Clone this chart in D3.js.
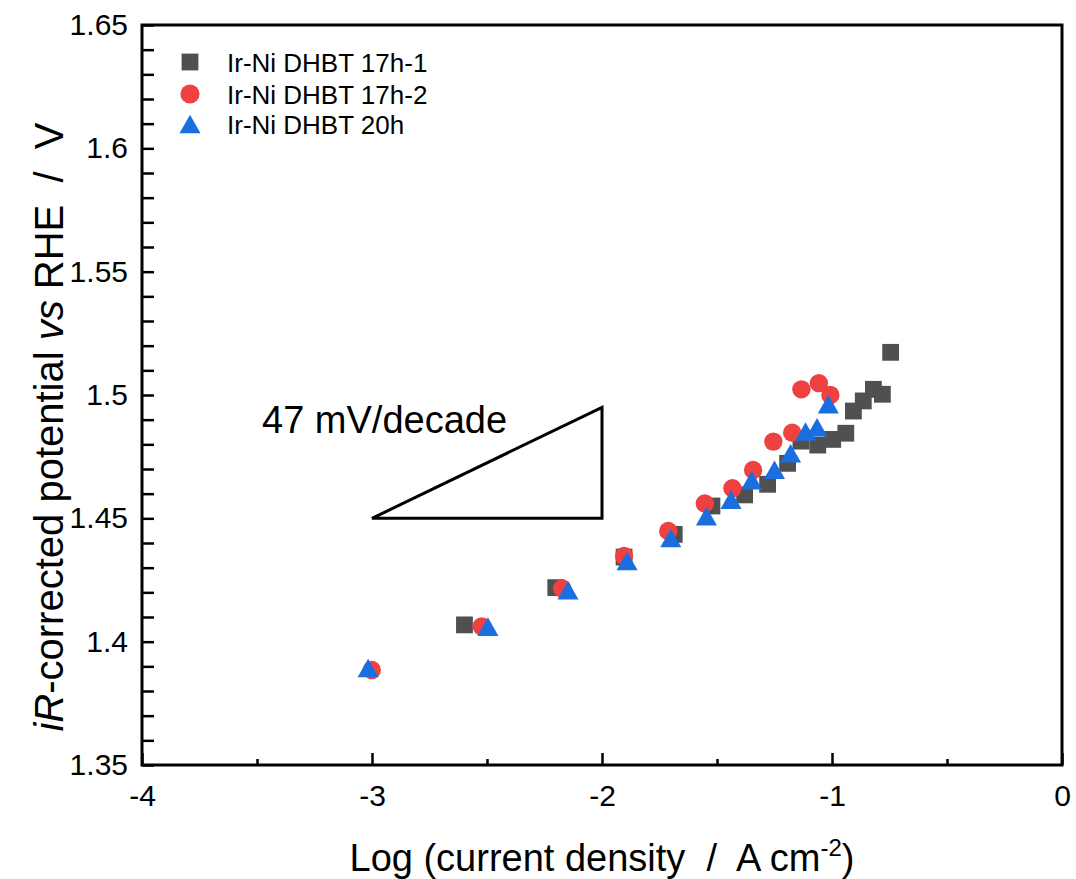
<!DOCTYPE html>
<html>
<head>
<meta charset="utf-8">
<script src="https://cdn.jsdelivr.net/npm/d3@7"></script>
<style>
  body { margin: 0; background: #fff; }
  svg text { font-family: "Liberation Sans", Arial, sans-serif; fill: #000; }
</style>
</head>
<body>
<div class="chart"></div>
<script>
// Tafel data
var names = ["Ir-Ni DHBT 17h-1", "Ir-Ni DHBT 17h-2", "Ir-Ni DHBT 20h"];
var colours = ["#505050", "#f04141", "#1a6ee0"];

var sqX = [-2.598, -2.201, -1.904, -1.686, -1.522, -1.380, -1.280, -1.193, -1.135, -1.062, -0.997, -0.940, -0.907, -0.864, -0.820, -0.781, -0.745];
var sqY = [1.4068, 1.4219, 1.4343, 1.4435, 1.4550, 1.4595, 1.4638, 1.4723, 1.4813, 1.4797, 1.4820, 1.4845, 1.4935, 1.4976, 1.5023, 1.5003, 1.5173];

var ciX = [-3.001, -2.523, -2.173, -1.904, -1.712, -1.553, -1.433, -1.343, -1.255, -1.173, -1.133, -1.057, -1.007];
var ciY = [1.3885, 1.4062, 1.4216, 1.4347, 1.4449, 1.4560, 1.4622, 1.4696, 1.4811, 1.4847, 1.5023, 1.5048, 1.5000];

var trX = [-3.017, -2.496, -2.148, -1.891, -1.701, -1.546, -1.439, -1.349, -1.250, -1.180, -1.115, -1.065, -1.016];
var trY = [1.3893, 1.4061, 1.4209, 1.4327, 1.4420, 1.4509, 1.4576, 1.4655, 1.4697, 1.4764, 1.4852, 1.4869, 1.4963];

var xTicks = [-4, -3, -2, -1, 0];
var xMinor = [-3.5, -2.5, -1.5, -0.5];
var yTicks = [1.35, 1.4, 1.45, 1.5, 1.55, 1.6, 1.65];

// slope triangle: 47 mV per decade
var slopeX = [-3, -2];
var slopeY = [1.45, 1.495];
var slopeLabel = "47 mV/decade";

var width = 1076, height = 879;
var margin = {left: 142, right: 14, top: 25, bottom: 114};

var svg = d3.select(".chart").append("svg").attr("width", width).attr("height", height);

var x = d3.scaleLinear().domain([-4, 0]).range([margin.left, width - margin.right]);
var y = d3.scaleLinear().domain([1.35, 1.65]).range([height - margin.bottom, margin.top]);

// frame
svg.append("rect")
    .attr("x", x(-4)).attr("y", y(1.65))
    .attr("width", x(0) - x(-4)).attr("height", y(1.35) - y(1.65))
    .attr("fill", "none").attr("stroke", "#000").attr("stroke-width", 3);

// x axis
var xAxis = svg.append("g").attr("transform", `translate(0,${y(1.35)})`)
    .call(d3.axisBottom(x).tickValues(xTicks).tickSize(-12).tickPadding(20).tickFormat(d => String(d)));
xAxis.select(".domain").remove();
svg.append("g").attr("transform", `translate(0,${y(1.35)})`)
    .call(d3.axisBottom(x).tickValues(xMinor).tickSize(-6).tickFormat(""))
    .select(".domain").remove();

// y axis
var yMinor = d3.range(1.36, 1.65, 0.01).filter(v => Math.abs(v * 20 - Math.round(v * 20)) > 0.01);
var yAxis = svg.append("g").attr("transform", `translate(${x(-4)},0)`)
    .call(d3.axisLeft(y).tickValues(yTicks).tickSize(-12).tickPadding(14).tickFormat(d => String(+d.toFixed(2))));
yAxis.select(".domain").remove();
svg.append("g").attr("transform", `translate(${x(-4)},0)`)
    .call(d3.axisLeft(y).tickValues(yMinor).tickSize(-12).tickFormat(""))
    .select(".domain").remove();

svg.selectAll(".tick line").attr("stroke", "#000").attr("stroke-width", 2.5);
xAxis.selectAll("text").attr("font-size", 30).attr("fill", "#000");
yAxis.selectAll("text").attr("font-size", 30).attr("fill", "#000");

// axis titles
svg.append("text")
    .attr("x", (x(-4) + x(0)) / 2).attr("y", 871)
    .attr("text-anchor", "middle").attr("font-size", 38)
    .html('Log (current density &#160;/&#160; A cm<tspan dy="-15" font-size="24">-2</tspan><tspan dy="15">)</tspan>');

svg.append("text")
    .attr("transform", `translate(63,${(y(1.35) + y(1.65)) / 2 + 32}) rotate(-90)`)
    .attr("text-anchor", "middle").attr("font-size", 40)
    .html('<tspan font-style="italic">iR</tspan>-corrected potential <tspan font-style="italic">vs</tspan> RHE &#160;/&#160; V');

// slope triangle
var tri = [[slopeX[0], slopeY[0]], [slopeX[1], slopeY[1]], [slopeX[1], slopeY[0]]];
svg.append("path")
    .attr("d", d3.line().x(d => x(d[0])).y(d => y(d[1]))(tri) + "Z")
    .attr("fill", "none").attr("stroke", "#000").attr("stroke-width", 3);
svg.append("text").attr("x", 262).attr("y", 433).attr("font-size", 38).text(slopeLabel);

// markers
var triPath = "M0,-9.3L10.5,9.3L-10.5,9.3Z";

svg.append("g").selectAll("rect").data(d3.zip(sqX, sqY)).enter().append("rect")
    .attr("x", d => x(d[0]) - 8.4).attr("y", d => y(d[1]) - 8.4)
    .attr("width", 16.8).attr("height", 16.8).attr("fill", colours[0]);

svg.append("g").selectAll("circle").data(d3.zip(ciX, ciY)).enter().append("circle")
    .attr("cx", d => x(d[0])).attr("cy", d => y(d[1])).attr("r", 9.2).attr("fill", colours[1]);

svg.append("g").selectAll("path").data(d3.zip(trX, trY)).enter().append("path")
    .attr("transform", d => `translate(${x(d[0])},${y(d[1])})`)
    .attr("d", triPath).attr("fill", colours[2]);

// legend
var legend = svg.append("g");
var legY = [62, 94, 124];
legend.append("rect").attr("x", 190 - 8.4).attr("y", legY[0] - 8.4).attr("width", 16.8).attr("height", 16.8).attr("fill", colours[0]);
legend.append("circle").attr("cx", 190).attr("cy", legY[1]).attr("r", 9.6).attr("fill", colours[1]);
legend.append("path").attr("transform", `translate(190,${legY[2]})`).attr("d", triPath).attr("fill", colours[2]);
legend.selectAll("text").data(names).enter().append("text")
    .attr("x", 227).attr("y", (d, i) => legY[i] + 9.5)
    .attr("font-size", 26).text(d => d);
</script>
</body>
</html>
